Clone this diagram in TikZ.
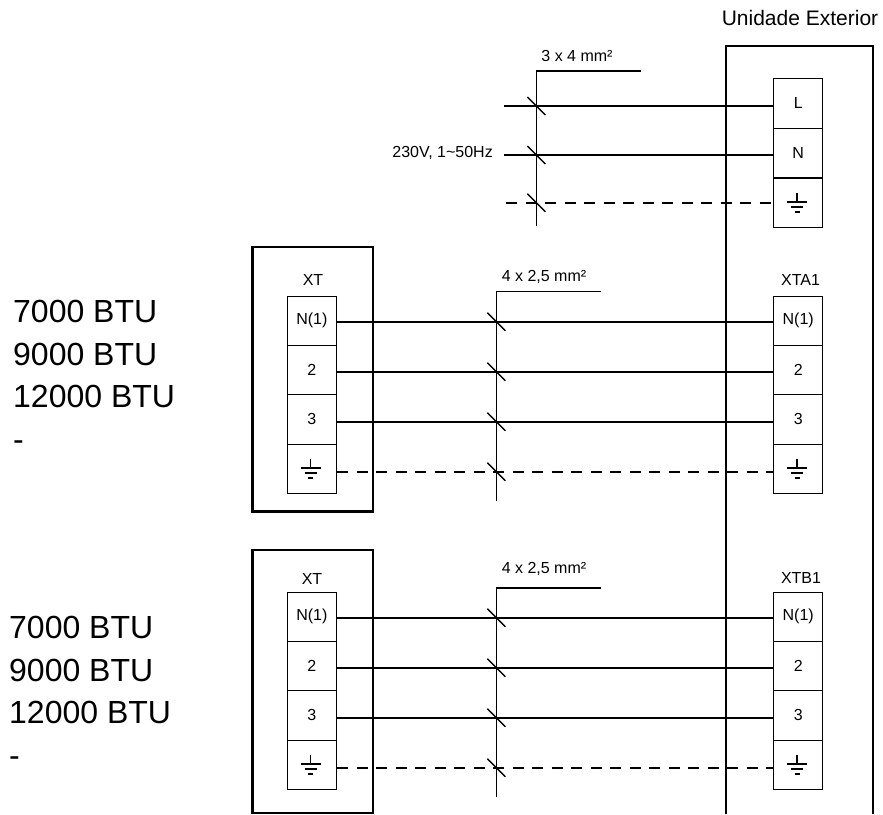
\documentclass[tikz,border=0pt]{standalone}
\usepackage{fontspec}
\setmainfont{Liberation Sans}
\tikzset{
  wire/.style={line width=1.8pt},
  tickline/.style={line width=1.4pt},
  earthwire/.style={line width=1.8pt,dash pattern=on 11pt off 8.5pt},
  casing/.style={line width=2.2pt},
  terminal/.style={draw,line width=1pt,minimum width=49.5pt,minimum height=49.4pt,inner sep=0pt,font=\fontsize{16}{18}\selectfont},
  small/.style={inner sep=0pt,font=\fontsize{16}{18}\selectfont},
  btu/.style={anchor=north west,align=left,inner sep=0pt,font=\fontsize{32}{42.5}\selectfont},
}
% earth symbol, centred on a terminal
\newcommand{\earth}[1]{
  \draw[line width=1.5pt] ([shift={(-1.2pt,10pt)}]#1.center) -- ([shift={(-1.2pt,1pt)}]#1.center) ;
  \draw[line width=1.7pt] ([shift={(-11.2pt,1pt)}]#1.center) -- ([shift={(8.8pt,1pt)}]#1.center) ;
  \draw[line width=1.7pt] ([shift={(-7.2pt,-4pt)}]#1.center) -- ([shift={(4.8pt,-4pt)}]#1.center) ;
  \draw[line width=1.8pt] ([shift={(-3.7pt,-9pt)}]#1.center) -- ([shift={(1.3pt,-9pt)}]#1.center) ;
}
% four terminals in a strip
\newcommand{\strip}[3]{
  \node[terminal] (#1a) at (#2,#3+24.7) {N(1)} ;
  \node[terminal] (#1b) at (#2,#3+74) {2} ;
  \node[terminal] (#1c) at (#2,#3+123.4) {3} ;
  \node[terminal] (#1d) at (#2,#3+172.8) {} ;
  \earth{#1d}
}
% bus with its flag
\newcommand{\bus}[4]{
  \coordinate (#1top) at (#2,#3) ;
  \coordinate (#1end) at (#2+104.4,#3) ;
  \coordinate (#1low) at (#2,#4) ;
  \draw[tickline] (#1end) -- (#1top) -- (#1low) ;
}
\begin{document}
\begin{tikzpicture}[x=1pt,y=-1pt]
  \useasboundingbox (0,0) rectangle (883,814) ;

  \draw[casing] (726,814) -- (726,46) -- (873,46) -- (873,814) ;
  \draw[casing] (252.5,247) rectangle (373,511.5) ;
  \draw[casing] (252.5,550) -- (373,550) -- (373,813) -- (252.5,813) -- cycle ;

  \node[inner sep=0pt,font=\fontsize{21}{24}\selectfont] (unit) at (800,18) {Unidade Exterior} ;

  % supply
  \node[terminal] (supl) at (798.2,103.3) {L} ;
  \node[terminal] (supn) at (798.2,152.9) {N} ;
  \node[terminal] (supe) at (798.2,202.8) {} ;
  \earth{supe}
  \coordinate (freel) at (504,106) ;
  \coordinate (freen) at (504,155) ;
  \coordinate (freee) at (506,202.7) ;
  \draw[wire] (freel) -- (supl.west |- freel) ;
  \draw[wire] (freen) -- (supn.west |- freen) ;
  \draw[earthwire] (freee) -- (supe.west |- freee) ;
  \bus{p}{536.3}{71}{226}
  \foreach \y in {106,155,202.7}
    \draw[tickline] (527.3,\y-9) -- (545.3,\y+9) ;
  \node[small] (plabel) at (577,56) {3 x 4 mm²} ;
  \node[small,anchor=east] (volt) at (493,152.5) {230V, 1\textasciitilde 50Hz} ;

  % first row
  \strip{xa}{311.9}{296}
  \strip{ya}{798.2}{296}
  \node[small] (xalabel) at (313,280) {XT} ;
  \node[small] (yalabel) at (800.5,280) {XTA1} ;
  \bus{a}{496.3}{291.7}{500.7}
  \node[small] (alabel) at (544,277) {4 x 2,5 mm²} ;
  \foreach \t/\y in {a/321.7,b/371.7,c/421.7}
    \draw[wire] (xa\t.east |- 0,\y) -- (ya\t.west |- 0,\y) ;
  \draw[earthwire] (xad.east |- 0,471.7) -- (yad.west |- 0,471.7) ;
  \foreach \y in {321.7,371.7,421.7,471.7}
    \draw[tickline] (487.3,\y-9) -- (505.3,\y+9) ;

  % second row
  \strip{xb}{311.9}{592}
  \strip{yb}{798.2}{592}
  \node[small] (xblabel) at (312,579) {XT} ;
  \node[small] (yblabel) at (801,578) {XTB1} ;
  \bus{b}{496.3}{588}{796.7}
  \node[small] (blabel) at (544,569) {4 x 2,5 mm²} ;
  \foreach \t/\y in {a/617.7,b/667.7,c/717.7}
    \draw[wire] (xb\t.east |- 0,\y) -- (yb\t.west |- 0,\y) ;
  \draw[earthwire] (xbd.east |- 0,767.7) -- (ybd.west |- 0,767.7) ;
  \foreach \y in {617.7,667.7,717.7,767.7}
    \draw[tickline] (487.3,\y-9) -- (505.3,\y+9) ;

  \node[btu] (btua) at (13,300) {7000 BTU\\9000 BTU\\12000 BTU\\-} ;
  \node[btu] (btub) at (9,616) {7000 BTU\\9000 BTU\\12000 BTU\\-} ;
\end{tikzpicture}
\end{document}
